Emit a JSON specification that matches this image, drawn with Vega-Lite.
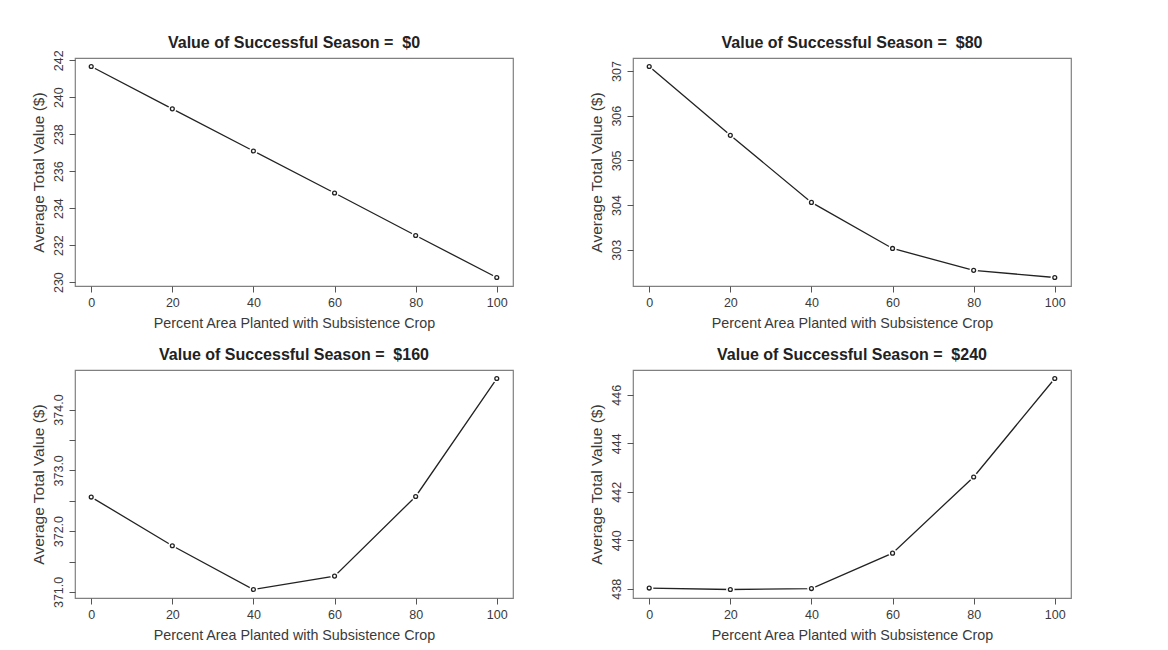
{
  "$schema": "https://vega.github.io/schema/vega-lite/v6.json",
  "background": "white",
  "padding": {"left": 30, "top": 34, "right": 10, "bottom": 5},
  "bounds": "flush",
  "columns": 2,
  "spacing": {"row": 84, "column": 120},
  "datasets": {
    "d": [
      {"season": 0, "pct": 0, "value": 241.66},
      {"season": 0, "pct": 20, "value": 239.37},
      {"season": 0, "pct": 40, "value": 237.09},
      {"season": 0, "pct": 60, "value": 234.82},
      {"season": 0, "pct": 80, "value": 232.52},
      {"season": 0, "pct": 100, "value": 230.25},
      {"season": 80, "pct": 0, "value": 307.10},
      {"season": 80, "pct": 20, "value": 305.56},
      {"season": 80, "pct": 40, "value": 304.06},
      {"season": 80, "pct": 60, "value": 303.03},
      {"season": 80, "pct": 80, "value": 302.54},
      {"season": 80, "pct": 100, "value": 302.38},
      {"season": 160, "pct": 0, "value": 372.56},
      {"season": 160, "pct": 20, "value": 371.76},
      {"season": 160, "pct": 40, "value": 371.04},
      {"season": 160, "pct": 60, "value": 371.26},
      {"season": 160, "pct": 80, "value": 372.57},
      {"season": 160, "pct": 100, "value": 374.51},
      {"season": 240, "pct": 0, "value": 438.03},
      {"season": 240, "pct": 20, "value": 437.97},
      {"season": 240, "pct": 40, "value": 438.01},
      {"season": 240, "pct": 60, "value": 439.47},
      {"season": 240, "pct": 80, "value": 442.61},
      {"season": 240, "pct": 100, "value": 446.67}
    ]
  },
  "config": {
    "font": "Liberation Sans",
    "view": {"stroke": "#808080", "strokeWidth": 1.2},
    "axis": {
      "grid": false,
      "domain": false,
      "tickColor": "#555",
      "tickSize": 6,
      "tickWidth": 1,
      "labelFont": "Liberation Sans",
      "labelFontSize": 12.5,
      "labelColor": "#3a3a3a",
      "labelPadding": 4,
      "titleFont": "Liberation Sans",
      "titleFontWeight": "normal",
      "titleColor": "#3a3a3a"
    },
    "axisX": {"titleFontSize": 14.3, "titlePadding": 8},
    "axisY": {"labelAngle": -90, "labelAlign": "center", "labelBaseline": "bottom", "titleFontSize": 15.5, "titlePadding": 6},
    "title": {"font": "Liberation Sans", "fontSize": 16, "fontWeight": "bold", "color": "#222", "anchor": "middle", "offset": 7}
  },
  "concat": [
    {
      "width": 438, "height": 228,
      "title": {"text": "Value of Successful Season = \u00a0$0", "offset": -1},
      "data": {"name": "d"},
      "transform": [{"filter": "datum.season == 0"}],
      "encoding": {
        "x": {"field": "pct", "type": "quantitative", "title": "Percent Area Planted with Subsistence Crop", "scale": {"domain": [-4, 104], "nice": false, "zero": false}, "axis": {"values": [0, 20, 40, 60, 80, 100]}},
        "y": {"field": "value", "type": "quantitative", "title": "Average Total Value ($)", "scale": {"domain": [229.79, 242.12], "nice": false, "zero": false}, "axis": {"values": [230, 232, 234, 236, 238, 240, 242]}}
      },
      "layer": [
        {"mark": {"type": "line", "color": "#222", "strokeWidth": 1.3}},
        {"mark": {"type": "point", "shape": "circle", "filled": true, "color": "white", "size": 70, "opacity": 1}},
        {"mark": {"type": "point", "shape": "circle", "filled": false, "color": "#222", "size": 15, "strokeWidth": 1.3, "opacity": 1}}
      ]
    },
    {
      "width": 438, "height": 228,
      "title": "Value of Successful Season = \u00a0$80",
      "data": {"name": "d"},
      "transform": [{"filter": "datum.season == 80"}],
      "encoding": {
        "x": {"field": "pct", "type": "quantitative", "title": "Percent Area Planted with Subsistence Crop", "scale": {"domain": [-4, 104], "nice": false, "zero": false}, "axis": {"values": [0, 20, 40, 60, 80, 100]}},
        "y": {"field": "value", "type": "quantitative", "title": "Average Total Value ($)", "scale": {"domain": [302.19, 307.29], "nice": false, "zero": false}, "axis": {"values": [303, 304, 305, 306, 307]}}
      },
      "layer": [
        {"mark": {"type": "line", "color": "#222", "strokeWidth": 1.3}},
        {"mark": {"type": "point", "shape": "circle", "filled": true, "color": "white", "size": 70, "opacity": 1}},
        {"mark": {"type": "point", "shape": "circle", "filled": false, "color": "#222", "size": 15, "strokeWidth": 1.3, "opacity": 1}}
      ]
    },
    {
      "width": 438, "height": 228,
      "title": "Value of Successful Season = \u00a0$160",
      "data": {"name": "d"},
      "transform": [{"filter": "datum.season == 160"}],
      "encoding": {
        "x": {"field": "pct", "type": "quantitative", "title": "Percent Area Planted with Subsistence Crop", "scale": {"domain": [-4, 104], "nice": false, "zero": false}, "axis": {"values": [0, 20, 40, 60, 80, 100]}},
        "y": {"field": "value", "type": "quantitative", "title": "Average Total Value ($)", "scale": {"domain": [370.90, 374.65], "nice": false, "zero": false}, "axis": {"values": [371, 371.5, 372, 372.5, 373, 373.5, 374], "labelExpr": "datum.value % 1 == 0 ? format(datum.value, '.1f') : ''"}}
      },
      "layer": [
        {"mark": {"type": "line", "color": "#222", "strokeWidth": 1.3}},
        {"mark": {"type": "point", "shape": "circle", "filled": true, "color": "white", "size": 70, "opacity": 1}},
        {"mark": {"type": "point", "shape": "circle", "filled": false, "color": "#222", "size": 15, "strokeWidth": 1.3, "opacity": 1}}
      ]
    },
    {
      "width": 438, "height": 228,
      "title": "Value of Successful Season = \u00a0$240",
      "data": {"name": "d"},
      "transform": [{"filter": "datum.season == 240"}],
      "encoding": {
        "x": {"field": "pct", "type": "quantitative", "title": "Percent Area Planted with Subsistence Crop", "scale": {"domain": [-4, 104], "nice": false, "zero": false}, "axis": {"values": [0, 20, 40, 60, 80, 100]}},
        "y": {"field": "value", "type": "quantitative", "title": "Average Total Value ($)", "scale": {"domain": [437.62, 447.02], "nice": false, "zero": false}, "axis": {"values": [438, 440, 442, 444, 446]}}
      },
      "layer": [
        {"mark": {"type": "line", "color": "#222", "strokeWidth": 1.3}},
        {"mark": {"type": "point", "shape": "circle", "filled": true, "color": "white", "size": 70, "opacity": 1}},
        {"mark": {"type": "point", "shape": "circle", "filled": false, "color": "#222", "size": 15, "strokeWidth": 1.3, "opacity": 1}}
      ]
    }
  ]
}
